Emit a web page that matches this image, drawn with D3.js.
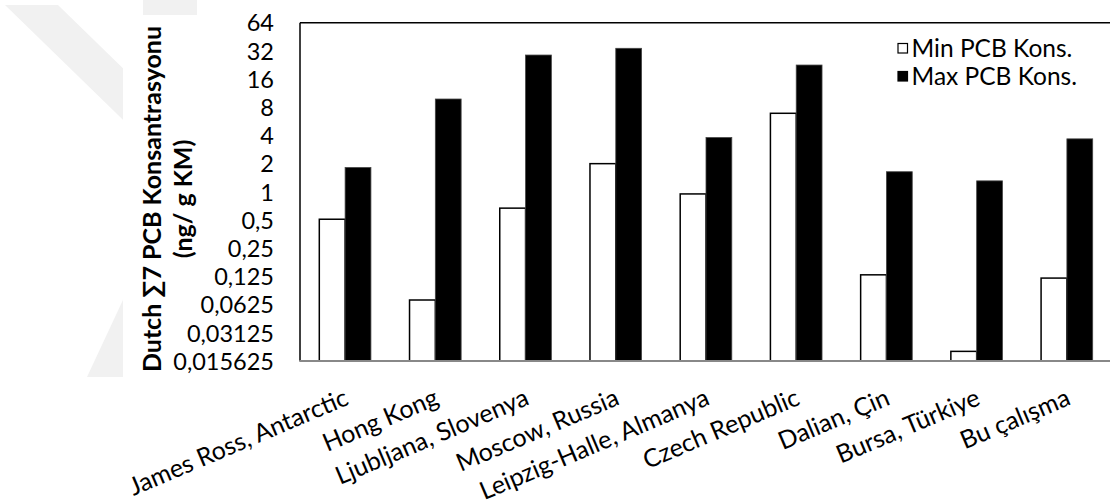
<!DOCTYPE html>
<html>
<head>
<meta charset="utf-8">
<script src="https://cdn.jsdelivr.net/npm/d3@7"></script>
<style>
  html, body { margin: 0; padding: 0; background: #fff; }
  svg { display: block; }
  text { font-family: Lato, "DejaVu Sans", sans-serif; fill: #000; }
</style>
</head>
<body>
<svg id="chart" width="1110" height="504"></svg>
<script>
const categories = ["James Ross, Antarctic", "Hong Kong", "Ljubljana, Slovenya", "Moscow, Russia",
  "Leipzig-Halle, Almanya", "Czech Republic", "Dalian, Çin", "Bursa, Türkiye", "Bu çalışma"];
const seriesNames = ["Min PCB Kons.", "Max PCB Kons."];
const minValues = [0.51, 0.070, 0.67, 2.0, 0.95, 6.9, 0.13, 0.0198, 0.12];
const maxValues = [1.82, 9.8, 28.9, 34.1, 3.8, 22.6, 1.64, 1.31, 3.68];
const yTicks = [0.015625, 0.03125, 0.0625, 0.125, 0.25, 0.5, 1, 2, 4, 8, 16, 32, 64];
const yTickLabels = ["0,015625", "0,03125", "0,0625", "0,125", "0,25", "0,5", "1", "2", "4", "8", "16", "32", "64"];
const yTitle1 = "Dutch \u22117 PCB Konsantrasyonu";
const yTitle2 = "(ng/ g KM)";

(function () {
const svg = d3.select("#chart");
const W = 1110, H = 504;
const mLeft = 300, mRight = 1112, mTop = 22.7, mBottom = 361;

// faint watermark
svg.append("rect").attr("width", W).attr("height", H).attr("fill", "#fff");
const wm = "#f1f1f1";
svg.append("polygon").attr("points", "5,5 58,5 320,260 267,260").attr("fill", wm);
svg.append("polygon").attr("points", "87,377 200,377 200,135").attr("fill", wm);
svg.append("rect").attr("x", 143).attr("y", 0).attr("width", 54).attr("height", 20).attr("fill", wm);
svg.append("rect").attr("x", 123).attr("y", 15).attr("width", W - 123).attr("height", H - 15).attr("fill", "#fff");

const x0 = d3.scaleBand().domain(categories).range([mLeft, mRight]).paddingInner(0.428).paddingOuter(0.214);
const x1 = d3.scaleBand().domain(seriesNames).range([0, x0.bandwidth()]);
const y = d3.scaleLog().base(2).domain([yTicks[0], yTicks[yTicks.length - 1]]).range([mBottom, mTop]);

const data = categories.map((c, i) => ({ cat: c, vals: [minValues[i], maxValues[i]] }));

const g = svg.append("g");
const groups = g.selectAll("g.grp").data(data).join("g").attr("class", "grp")
  .attr("transform", d => `translate(${x0(d.cat)},0)`);
groups.selectAll("rect").data(d => d.vals.map((v, j) => ({ v, s: seriesNames[j], j }))).join("rect")
  .attr("x", d => x1(d.s))
  .attr("y", d => y(d.v))
  .attr("width", x1.bandwidth())
  .attr("height", d => mBottom - y(d.v))
  .attr("fill", d => d.j === 0 ? "#fff" : "#000")
  .attr("stroke", d => d.j === 0 ? "#000" : "#444")
  .attr("stroke-width", d => d.j === 0 ? 1.5 : 0.8);

// frame lines
svg.append("line").attr("x1", mLeft).attr("x2", W).attr("y1", mTop).attr("y2", mTop)
  .attr("stroke", "#000").attr("stroke-width", 1.5);
svg.append("line").attr("x1", mLeft).attr("x2", mLeft).attr("y1", mTop).attr("y2", mBottom)
  .attr("stroke", "#000").attr("stroke-width", 1.5);
svg.append("line").attr("x1", mLeft - 0.75).attr("x2", W).attr("y1", mBottom).attr("y2", mBottom)
  .attr("stroke", "#888").attr("stroke-width", 2);

// y axis labels
const yAxis = d3.axisLeft(y).tickValues(yTicks).tickFormat((d, i) => yTickLabels[i]).tickSize(0).tickPadding(0);
const ya = svg.append("g").attr("transform", "translate(274,0)").call(yAxis);
ya.select(".domain").remove();
ya.selectAll("text").attr("font-family", "Lato, sans-serif").attr("font-size", 23.5).attr("dy", "0.35em").attr("fill", "#000");

// x axis labels
const xAxis = d3.axisBottom(x0).tickSize(0).tickPadding(0);
const xa = svg.append("g").call(xAxis);
xa.select(".domain").remove();
xa.selectAll(".tick").attr("transform", d => `translate(${x0(d) + x0.bandwidth() / 2 + 5},404)`);
xa.selectAll("text")
  .attr("font-family", "Lato, sans-serif").attr("font-size", 25)
  .attr("text-anchor", "end").attr("dy", 0).attr("y", 0)
  .attr("transform", "rotate(-23)").attr("fill", "#000");

// y title
const yt = svg.append("g").attr("transform", "translate(0,199) rotate(-90)");
yt.append("text").attr("x", 0).attr("y", 161).attr("text-anchor", "middle")
  .attr("font-weight", "bold").attr("font-size", 25).text(yTitle1);
yt.append("text").attr("x", 0).attr("y", 192).attr("text-anchor", "middle")
  .attr("font-weight", "bold").attr("font-size", 25).text(yTitle2);

// legend
const legendY = [48, 76];
const lg = svg.append("g");
seriesNames.forEach((s, j) => {
  lg.append("rect").attr("x", 898).attr("y", legendY[j] - 4.5).attr("width", 9.5).attr("height", 9.5)
    .attr("fill", j === 0 ? "#fff" : "#000").attr("stroke", "#000").attr("stroke-width", 1.2);
  lg.append("text").attr("x", 911.5).attr("y", legendY[j]).attr("dy", "0.35em")
    .attr("font-size", 24.5).text(s);
});
})();
</script>
</body>
</html>
